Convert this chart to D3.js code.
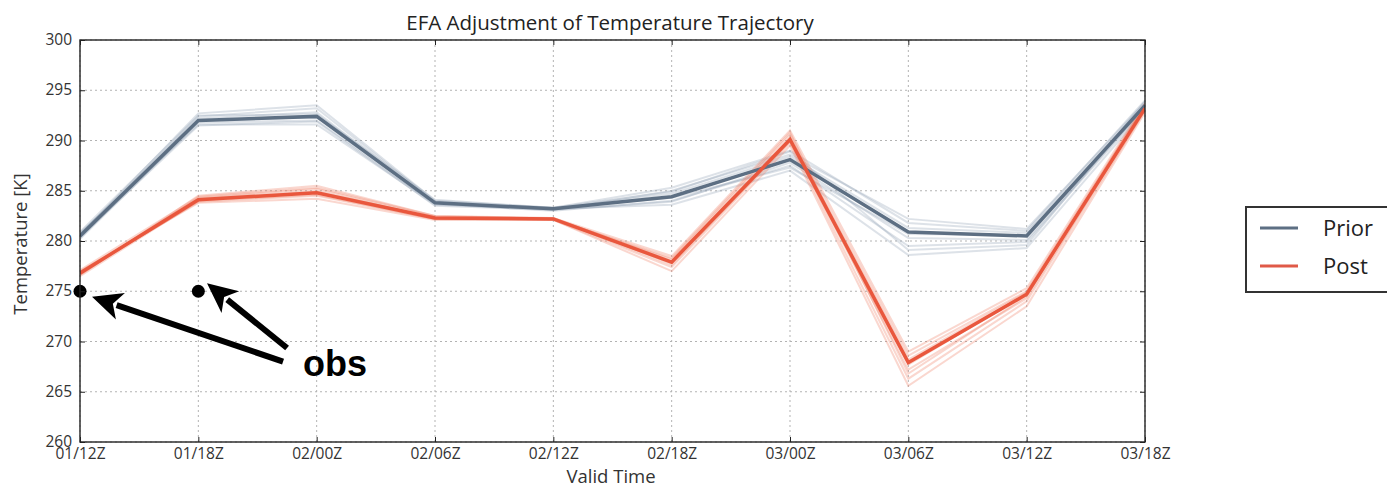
<!DOCTYPE html>
<html><head><meta charset="utf-8">
<script src="https://cdn.jsdelivr.net/npm/d3@7"></script>
<style>
body{margin:0;background:#fff;}
text{font-family:"Open Sans","DejaVu Sans",sans-serif;}
</style></head>
<body><svg id="c" width="1387" height="490"></svg>
<script>
const times = ["01/12Z","01/18Z","02/00Z","02/06Z","02/12Z","02/18Z","03/00Z","03/06Z","03/12Z","03/18Z"];
const yTicks = [260,265,270,275,280,285,290,295,300];

const priorMean = [280.5, 292.0, 292.4, 283.8, 283.2, 284.4, 288.1, 280.9, 280.5, 293.5];
const priorMembers = [
 [280.3, 292.4, 293.2, 283.9, 283.1, 285.0, 288.6, 282.2, 281.2, 293.8],
 [280.8, 291.6, 291.6, 283.6, 283.2, 283.6, 287.0, 278.6, 279.3, 293.0],
 [280.6, 292.7, 293.5, 284.0, 283.3, 285.3, 289.0, 281.8, 281.0, 294.0],
 [280.2, 291.8, 292.0, 283.7, 283.0, 284.0, 287.5, 279.5, 279.9, 293.2],
 [280.7, 292.2, 292.8, 283.8, 283.2, 284.7, 288.4, 281.3, 280.8, 293.6],
 [280.4, 291.5, 291.9, 283.5, 283.1, 283.9, 287.8, 280.3, 280.1, 293.3],
 [280.9, 292.5, 292.6, 284.1, 283.3, 284.9, 288.9, 279.1, 279.6, 293.9],
 [280.5, 292.0, 292.3, 283.8, 283.2, 284.3, 287.3, 280.7, 280.6, 293.4]
];
const postMean = [276.8, 284.1, 284.8, 282.3, 282.2, 277.9, 290.1, 267.9, 274.7, 293.2];
const postMembers = [
 [276.6, 284.5, 285.5, 282.5, 282.3, 278.5, 291.0, 269.0, 275.3, 293.7],
 [277.0, 283.8, 284.2, 282.1, 282.1, 277.0, 289.5, 265.6, 273.5, 292.8],
 [276.7, 284.3, 285.2, 282.4, 282.2, 278.2, 290.6, 268.6, 275.0, 293.5],
 [276.9, 283.9, 284.5, 282.2, 282.1, 277.4, 289.8, 266.3, 274.0, 293.0],
 [276.8, 284.2, 285.0, 282.3, 282.3, 278.0, 290.3, 268.2, 274.9, 293.3],
 [276.5, 284.0, 284.6, 282.2, 282.2, 277.6, 290.0, 267.2, 274.3, 293.1],
 [277.1, 284.4, 285.3, 282.5, 282.2, 278.3, 290.8, 266.8, 274.5, 293.6],
 [276.8, 284.1, 284.9, 282.3, 282.2, 277.8, 289.9, 267.7, 274.8, 293.2]
];
const obsTimes = ["01/12Z","01/18Z"];
const obsValues = [275, 275];
const legendLabels = ["Prior","Post"];

const L=80, R=1145, T=40, B=442;
const svg = d3.select("#c");
const x = d3.scalePoint().domain(times).range([L,R]);
const y = d3.scaleLinear().domain([260,300]).range([B,T]);

// grid
const grid = svg.append("g");
grid.selectAll("line.gx").data(times).join("line")
  .attr("x1",d=>x(d)).attr("x2",d=>x(d)).attr("y1",T).attr("y2",B)
  .attr("stroke","#b3b3b3").attr("stroke-width",1).attr("stroke-dasharray","2,3");
grid.selectAll("line.gy").data(yTicks).join("line")
  .attr("x1",L).attr("x2",R).attr("y1",d=>y(d)).attr("y2",d=>y(d))
  .attr("stroke","#b3b3b3").attr("stroke-width",1).attr("stroke-dasharray","2,3");

const line = d3.line().x((d,i)=>x(times[i])).y(d=>y(d));
svg.append("clipPath").attr("id","clp").append("rect").attr("x",L).attr("y",T).attr("width",R-L).attr("height",B-T);
const plot = svg.append("g").attr("clip-path","url(#clp)");

plot.selectAll("path.pm").data(priorMembers).join("path")
  .attr("d",line).attr("fill","none").attr("stroke","#8497ab").attr("stroke-opacity",0.28).attr("stroke-width",2);
plot.selectAll("path.qm").data(postMembers).join("path")
  .attr("d",line).attr("fill","none").attr("stroke","#f07a60").attr("stroke-opacity",0.3).attr("stroke-width",2);
plot.append("path").datum(priorMean).attr("d",line).attr("fill","none")
  .attr("stroke","#5d6f83").attr("stroke-width",3.5);
plot.append("path").datum(postMean).attr("d",line).attr("fill","none")
  .attr("stroke","#e9573d").attr("stroke-width",3.5);

// obs
svg.selectAll("circle.obs").data(obsValues).join("circle")
  .attr("cx",(d,i)=>x(obsTimes[i])).attr("cy",d=>y(d)).attr("r",6.5).attr("fill","#000");

// frame
svg.append("rect").attr("x",L).attr("y",T).attr("width",R-L).attr("height",B-T)
  .attr("fill","none").attr("stroke","#222").attr("stroke-width",1.4);

// axes
const xa = svg.append("g").attr("transform",`translate(0,${B})`)
  .call(d3.axisBottom(x).tickSize(-5).tickPadding(6));
const xt = svg.append("g").attr("transform",`translate(0,${T})`)
  .call(d3.axisTop(x).tickSize(-5).tickFormat(""));
const ya = svg.append("g").attr("transform",`translate(${L},0)`)
  .call(d3.axisLeft(y).tickValues(yTicks).tickSize(-5).tickPadding(8));
const yr = svg.append("g").attr("transform",`translate(${R},0)`)
  .call(d3.axisRight(y).tickValues(yTicks).tickSize(-5).tickFormat(""));
[xa,xt,ya,yr].forEach(g=>{
  g.select(".domain").remove();
  g.selectAll(".tick line").attr("stroke","#222");
  g.selectAll("text").attr("font-size",15.5).attr("fill","#333");
});
ya.selectAll("text").attr("dy","0.3em");

// titles
svg.append("text").attr("x",610).attr("y",30).attr("text-anchor","middle")
  .attr("font-size",20.5).attr("fill","#222").text("EFA Adjustment of Temperature Trajectory");
svg.append("text").attr("x",611).attr("y",483).attr("text-anchor","middle")
  .attr("font-size",18.5).attr("fill","#333").text("Valid Time");
svg.append("text").attr("transform",`translate(27,244) rotate(-90)`).attr("text-anchor","middle")
  .attr("font-size",18.5).attr("fill","#333").text("Temperature [K]");

// annotation (data coordinates)
const ann = svg.append("g");
function arrow(x0,y0,x1,y1){
  const dx=x1-x0, dy=y1-y0, len=Math.hypot(dx,dy), ux=dx/len, uy=dy/len;
  const hl=30, hw=14;
  const bx=x1-ux*hl, by=y1-uy*hl;
  ann.append("line").attr("x1",x0).attr("y1",y0).attr("x2",bx+ux*4).attr("y2",by+uy*4)
    .attr("stroke","#000").attr("stroke-width",6);
  ann.append("polygon").attr("points",
    [[x1,y1],[bx-uy*hw,by+ux*hw],[bx+ux*8,by+uy*8],[bx+uy*hw,by-ux*hw]].map(p=>p.join(",")).join(" "))
    .attr("fill","#000");
}
const step = x.step();
arrow(x(times[1])+step*0.716, y(268.0), x(times[0])+12, y(274.46));
arrow(x(times[1])+step*0.75, y(269.35), x(times[1])+8.7, y(275.8));
ann.append("text").attr("x",x(times[1])+step*0.885).attr("y",y(266.57))
  .style("font-family","'Liberation Sans', Arial, sans-serif").style("font-weight","bold")
  .attr("font-size",36).attr("fill","#000").text("obs");

// legend
const lg = svg.append("g");
lg.append("rect").attr("x",1246).attr("y",207).attr("width",160).attr("height",85)
  .attr("fill","#fff").attr("stroke","#333").attr("stroke-width",2);
const lcol = ["#5d6f83","#e05a48"];
legendLabels.forEach((t,i)=>{
  const yy = 228 + i*38;
  lg.append("line").attr("x1",1260).attr("x2",1298).attr("y1",yy).attr("y2",yy)
    .attr("stroke",lcol[i]).attr("stroke-width",3);
  lg.append("text").attr("x",1323).attr("y",yy+8).attr("font-size",22).attr("fill","#222").text(t);
});
</script></body></html>
